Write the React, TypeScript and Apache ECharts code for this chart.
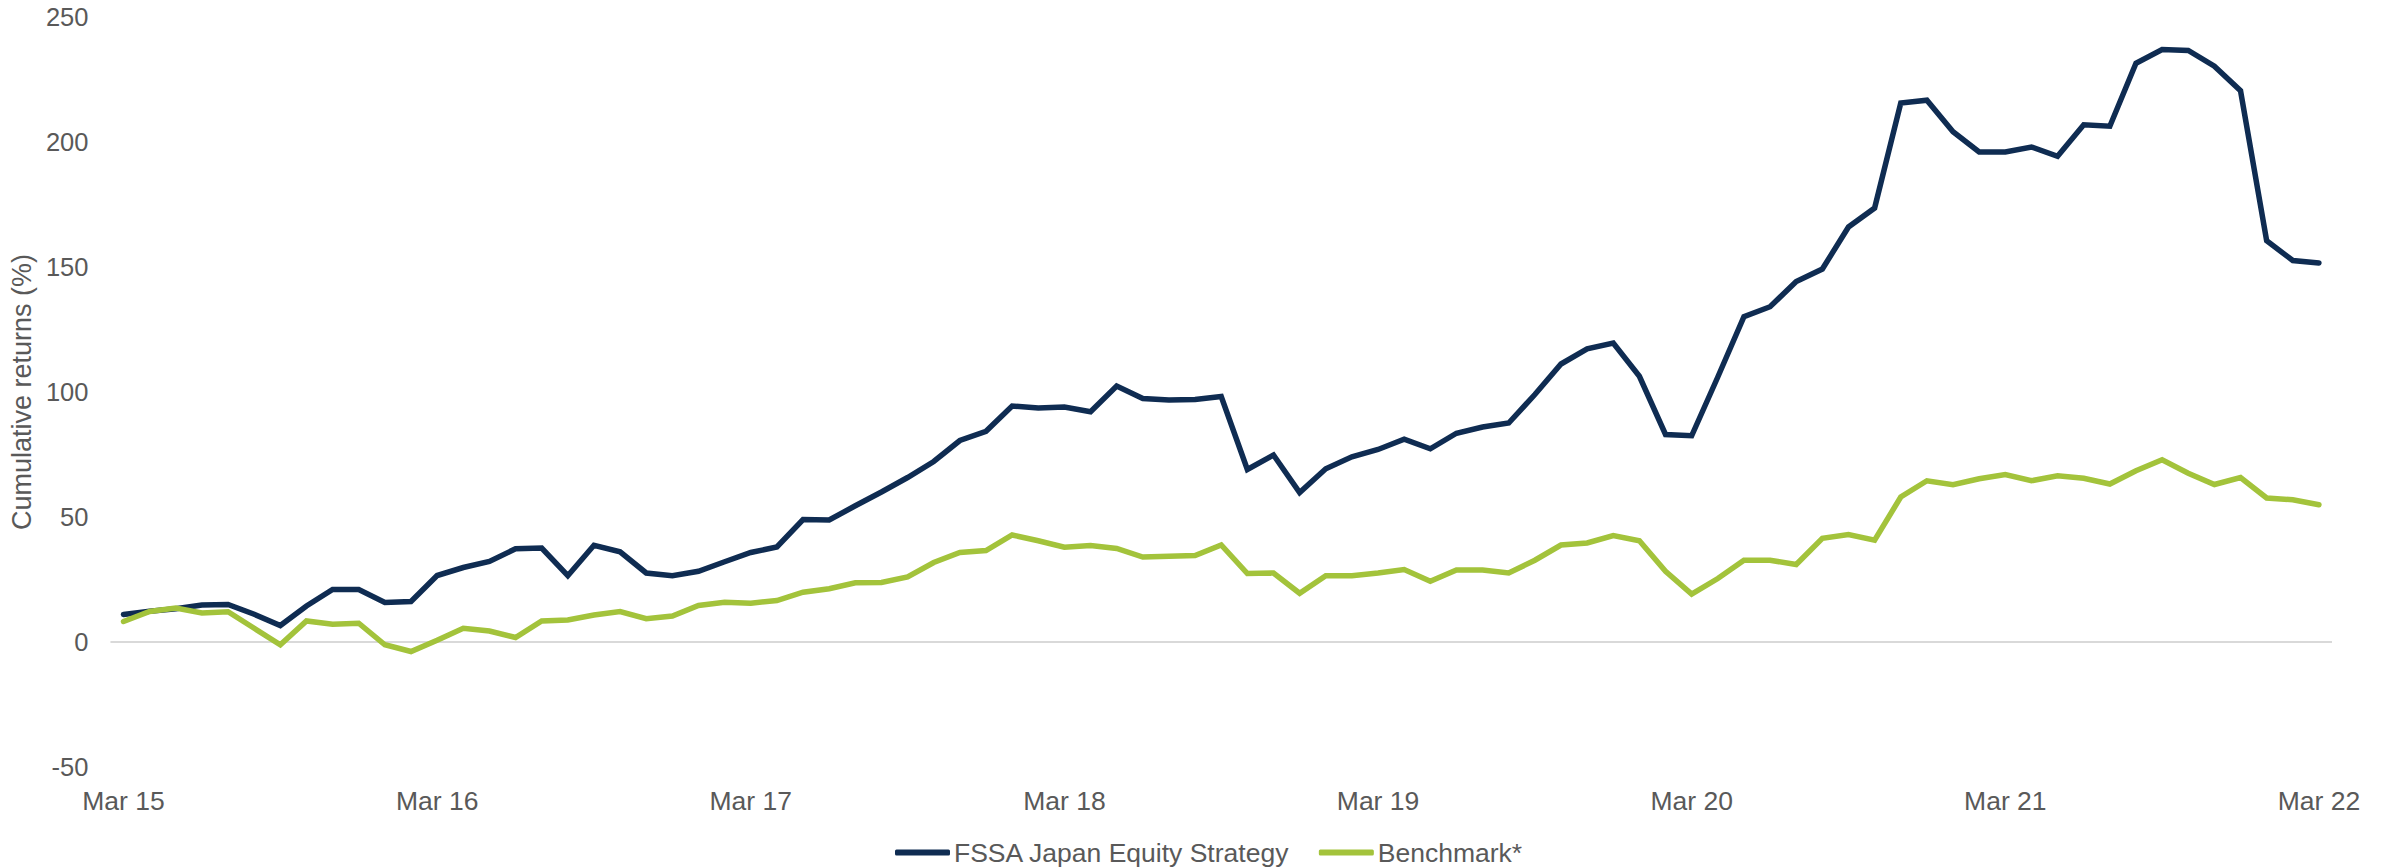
import React, { useEffect, useRef } from "react";
import * as echarts from "echarts";

// Monthly cumulative returns (%), Mar 2015 – Mar 2022
const MONTHS = ["Mar", "Apr", "May", "Jun", "Jul", "Aug", "Sep", "Oct", "Nov", "Dec", "Jan", "Feb"];
const START_YEAR = 15;
const POINT_COUNT = 85;

const strategy = [
  11.0, 12.3, 13.3, 14.8, 15.0, 11.1, 6.6, 14.4, 21.0, 21.0, 15.8, 16.2,
  26.6, 29.8, 32.2, 37.3, 37.6, 26.5, 38.7, 36.1, 27.6, 26.5, 28.3, 32.1,
  35.8, 38.0, 49.0, 48.8, 54.5, 60.0, 65.8, 72.2, 80.6, 84.3, 94.4, 93.6,
  94.0, 92.1, 102.4, 97.4, 96.8, 97.0, 98.2, 69.0, 74.8, 59.8, 69.3, 74.1,
  77.0, 81.1, 77.3, 83.5, 86.0, 87.6, 99.0, 111.2, 117.3, 119.6, 106.3, 83.0,
  82.5, 106.0, 130.1, 134.1, 144.2, 149.2, 166.0, 173.6, 215.6, 216.7, 204.1, 196.0,
  196.0, 198.0, 194.3, 206.9, 206.3, 231.5, 237.0, 236.6, 230.3, 220.5, 160.5, 152.6,
  151.6,
];

const benchmark = [
  8.2, 12.2, 13.6, 11.6, 12.1, 5.5, -1.1, 8.4, 7.1, 7.5, -1.1, -3.8,
  0.7, 5.5, 4.4, 1.8, 8.4, 8.8, 10.8, 12.2, 9.3, 10.4, 14.6, 15.9,
  15.5, 16.6, 19.9, 21.3, 23.7, 23.8, 26.0, 31.8, 35.8, 36.6, 42.8, 40.5,
  37.9, 38.6, 37.4, 34.0, 34.3, 34.6, 38.8, 27.4, 27.6, 19.5, 26.5, 26.5,
  27.6, 29.0, 24.3, 28.8, 28.8, 27.6, 32.7, 38.8, 39.6, 42.6, 40.5, 28.3,
  19.2, 25.4, 32.7, 32.7, 31.0, 41.5, 43.0, 40.7, 58.0, 64.5, 62.9, 65.3,
  67.0, 64.5, 66.5, 65.5, 63.2, 68.5, 72.9, 67.5, 63.0, 65.8, 57.6, 56.9,
  54.9,
];

const SERIES_NAMES = ["FSSA Japan Equity Strategy", "Benchmark*"];
const Y_TICKS = { min: -50, max: 250, step: 50 };

// "Mar 15", "Apr 15", ... one label per month
const categories: string[] = [];
for (let i = 0; i < POINT_COUNT; i++) {
  const m = i % 12;
  const yr = START_YEAR + Math.floor((i + 2) / 12);
  categories.push(`${MONTHS[m]} ${yr}`);
}

const NAVY = "#0f2c52";
const GREEN = "#a3c33b";
const TEXT = "#595959";
const FONT = "'Liberation Sans', Arial, sans-serif";

export default function App() {
  const ref = useRef<HTMLDivElement>(null);

  useEffect(() => {
    if (!ref.current) return;
    const chart = echarts.init(ref.current, undefined, { renderer: "svg" });
    chart.setOption({
      animation: false,
      backgroundColor: "#ffffff",
      textStyle: { fontFamily: FONT },
      grid: { left: 110, right: 60, top: 17, bottom: 100, containLabel: false },
      legend: {
        left: 890,
        top: 834,
        itemWidth: 55,
        itemHeight: 6,
        itemGap: 29,
        icon: "roundRect",
        textStyle: { color: TEXT, fontSize: 26.5, fontFamily: FONT, padding: [0, 0, 0, -1] },
        data: SERIES_NAMES,
      },
      xAxis: {
        type: "category",
        data: categories,
        boundaryGap: true,
        axisLine: { show: false },
        axisTick: { show: false },
        splitLine: { show: false },
        axisLabel: {
          interval: 11,
          color: TEXT,
          fontSize: 26.5,
          fontFamily: FONT,
          margin: 20,
        },
      },
      yAxis: {
        type: "value",
        min: Y_TICKS.min,
        max: Y_TICKS.max,
        interval: Y_TICKS.step,
        name: "Cumulative returns (%)",
        nameLocation: "middle",
        nameGap: 57,
        nameRotate: 90,
        nameTextStyle: { color: TEXT, fontSize: 27, fontFamily: FONT },
        axisLine: { show: false },
        axisTick: { show: false },
        splitLine: { show: false },
        axisLabel: { color: TEXT, fontSize: 25.5, fontFamily: FONT, margin: 22 },
      },
      series: [
        {
          name: SERIES_NAMES[0],
          type: "line",
          data: strategy,
          symbol: "none",
          showSymbol: false,
          color: NAVY,
          lineStyle: { color: NAVY, width: 5.5, cap: "round", join: "miter" },
          z: 3,
          markLine: {
            silent: true,
            symbol: "none",
            label: { show: false },
            lineStyle: { color: "#d9d9d9", width: 2, type: "solid" },
            data: [{ yAxis: 0 }],
            z: 1,
          },
        },
        {
          name: SERIES_NAMES[1],
          type: "line",
          data: benchmark,
          symbol: "none",
          showSymbol: false,
          color: GREEN,
          lineStyle: { color: GREEN, width: 5.5, cap: "round", join: "miter" },
          z: 4,
        },
      ],
    });
    return () => chart.dispose();
  }, []);

  return (
    <div
      ref={ref}
      style={{ position: "absolute", left: 0, top: 0, width: 2392, height: 867 }}
    />
  );
}
